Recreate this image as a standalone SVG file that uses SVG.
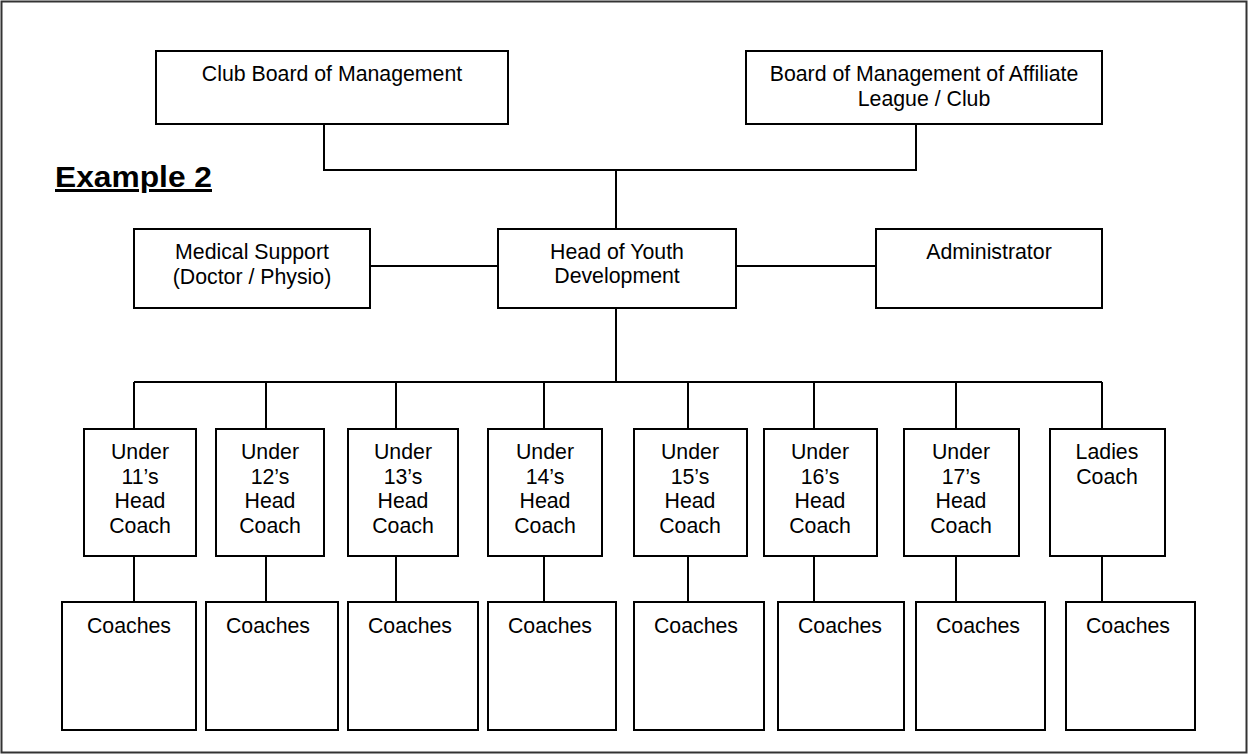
<svg xmlns="http://www.w3.org/2000/svg" width="1248" height="754" viewBox="0 0 1248 754">
<style>
  .box { fill: #ffffff; stroke: #000000; stroke-width: 2; }
  .ln { fill: none; stroke: #000000; stroke-width: 2; }
  .t { font-family: "Liberation Sans", Arial, sans-serif; font-size: 21.3px; fill: #000000; text-anchor: middle; }
  .title { font-family: "Liberation Sans", Arial, sans-serif; font-size: 30px; font-weight: bold; fill: #000000; text-decoration: underline; }
</style>
<rect x="1.5" y="1.5" width="1245" height="751" fill="#ffffff" stroke="#333333" stroke-width="2"/>
<text class="title" x="55" y="187" textLength="157" lengthAdjust="spacingAndGlyphs">Example 2</text>
<g id="connectors">
  <path class="ln" d="M324 124 V170 H916 V124"/>
  <path class="ln" d="M616 170 V229"/>
  <path class="ln" d="M370 266 H498"/>
  <path class="ln" d="M736 266 H876"/>
  <path class="ln" d="M616 308 V382"/>
  <path class="ln" d="M134 382 H1102"/>
  <path class="ln" d="M134 382 V429 M266 382 V429 M396 382 V429 M544 382 V429 M688 382 V429 M814 382 V429 M956 382 V429 M1102 382 V429"/>
  <path class="ln" d="M134 556 V602 M266 556 V602 M396 556 V602 M544 556 V602 M688 556 V602 M814 556 V602 M956 556 V602 M1102 556 V602"/>
</g>
<g id="club-board">
  <rect class="box" x="156" y="51" width="352" height="73"/>
  <text class="t" x="332" y="81">Club Board of Management</text>
</g>
<g id="affiliate-board">
  <rect class="box" x="746" y="51" width="356" height="73"/>
  <text class="t" x="924" y="81">Board of Management of Affiliate</text>
  <text class="t" x="924" y="106">League / Club</text>
</g>
<g id="medical">
  <rect class="box" x="134" y="229" width="236" height="79"/>
  <text class="t" x="252" y="259">Medical Support</text>
  <text class="t" x="252" y="284">(Doctor / Physio)</text>
</g>
<g id="head-youth">
  <rect class="box" x="498" y="229" width="238" height="79"/>
  <text class="t" x="617" y="259">Head of Youth</text>
  <text class="t" x="617" y="283">Development</text>
</g>
<g id="administrator">
  <rect class="box" x="876" y="229" width="226" height="79"/>
  <text class="t" x="989" y="259">Administrator</text>
</g>
<g id="u11">
  <rect class="box" x="84" y="429" width="112" height="127"/>
  <text class="t" x="140" y="459">Under</text><text class="t" x="140" y="484">11’s</text><text class="t" x="140" y="508">Head</text><text class="t" x="140" y="533">Coach</text>
</g>
<g id="u12">
  <rect class="box" x="216" y="429" width="108" height="127"/>
  <text class="t" x="270" y="459">Under</text><text class="t" x="270" y="484">12’s</text><text class="t" x="270" y="508">Head</text><text class="t" x="270" y="533">Coach</text>
</g>
<g id="u13">
  <rect class="box" x="348" y="429" width="110" height="127"/>
  <text class="t" x="403" y="459">Under</text><text class="t" x="403" y="484">13’s</text><text class="t" x="403" y="508">Head</text><text class="t" x="403" y="533">Coach</text>
</g>
<g id="u14">
  <rect class="box" x="488" y="429" width="114" height="127"/>
  <text class="t" x="545" y="459">Under</text><text class="t" x="545" y="484">14’s</text><text class="t" x="545" y="508">Head</text><text class="t" x="545" y="533">Coach</text>
</g>
<g id="u15">
  <rect class="box" x="634" y="429" width="113" height="127"/>
  <text class="t" x="690" y="459">Under</text><text class="t" x="690" y="484">15’s</text><text class="t" x="690" y="508">Head</text><text class="t" x="690" y="533">Coach</text>
</g>
<g id="u16">
  <rect class="box" x="764" y="429" width="113" height="127"/>
  <text class="t" x="820" y="459">Under</text><text class="t" x="820" y="484">16’s</text><text class="t" x="820" y="508">Head</text><text class="t" x="820" y="533">Coach</text>
</g>
<g id="u17">
  <rect class="box" x="904" y="429" width="115" height="127"/>
  <text class="t" x="961" y="459">Under</text><text class="t" x="961" y="484">17’s</text><text class="t" x="961" y="508">Head</text><text class="t" x="961" y="533">Coach</text>
</g>
<g id="ladies">
  <rect class="box" x="1050" y="429" width="115" height="127"/>
  <text class="t" x="1107" y="459">Ladies</text><text class="t" x="1107" y="484">Coach</text>
</g>
<g id="coaches-1"><rect class="box" x="62" y="602" width="134" height="128"/><text class="t" x="129" y="633">Coaches</text></g>
<g id="coaches-2"><rect class="box" x="206" y="602" width="132" height="128"/><text class="t" x="268" y="633">Coaches</text></g>
<g id="coaches-3"><rect class="box" x="348" y="602" width="130" height="128"/><text class="t" x="410" y="633">Coaches</text></g>
<g id="coaches-4"><rect class="box" x="488" y="602" width="128" height="128"/><text class="t" x="550" y="633">Coaches</text></g>
<g id="coaches-5"><rect class="box" x="634" y="602" width="130" height="128"/><text class="t" x="696" y="633">Coaches</text></g>
<g id="coaches-6"><rect class="box" x="778" y="602" width="126" height="128"/><text class="t" x="840" y="633">Coaches</text></g>
<g id="coaches-7"><rect class="box" x="916" y="602" width="129" height="128"/><text class="t" x="978" y="633">Coaches</text></g>
<g id="coaches-8"><rect class="box" x="1066" y="602" width="129" height="128"/><text class="t" x="1128" y="633">Coaches</text></g>
</svg>
